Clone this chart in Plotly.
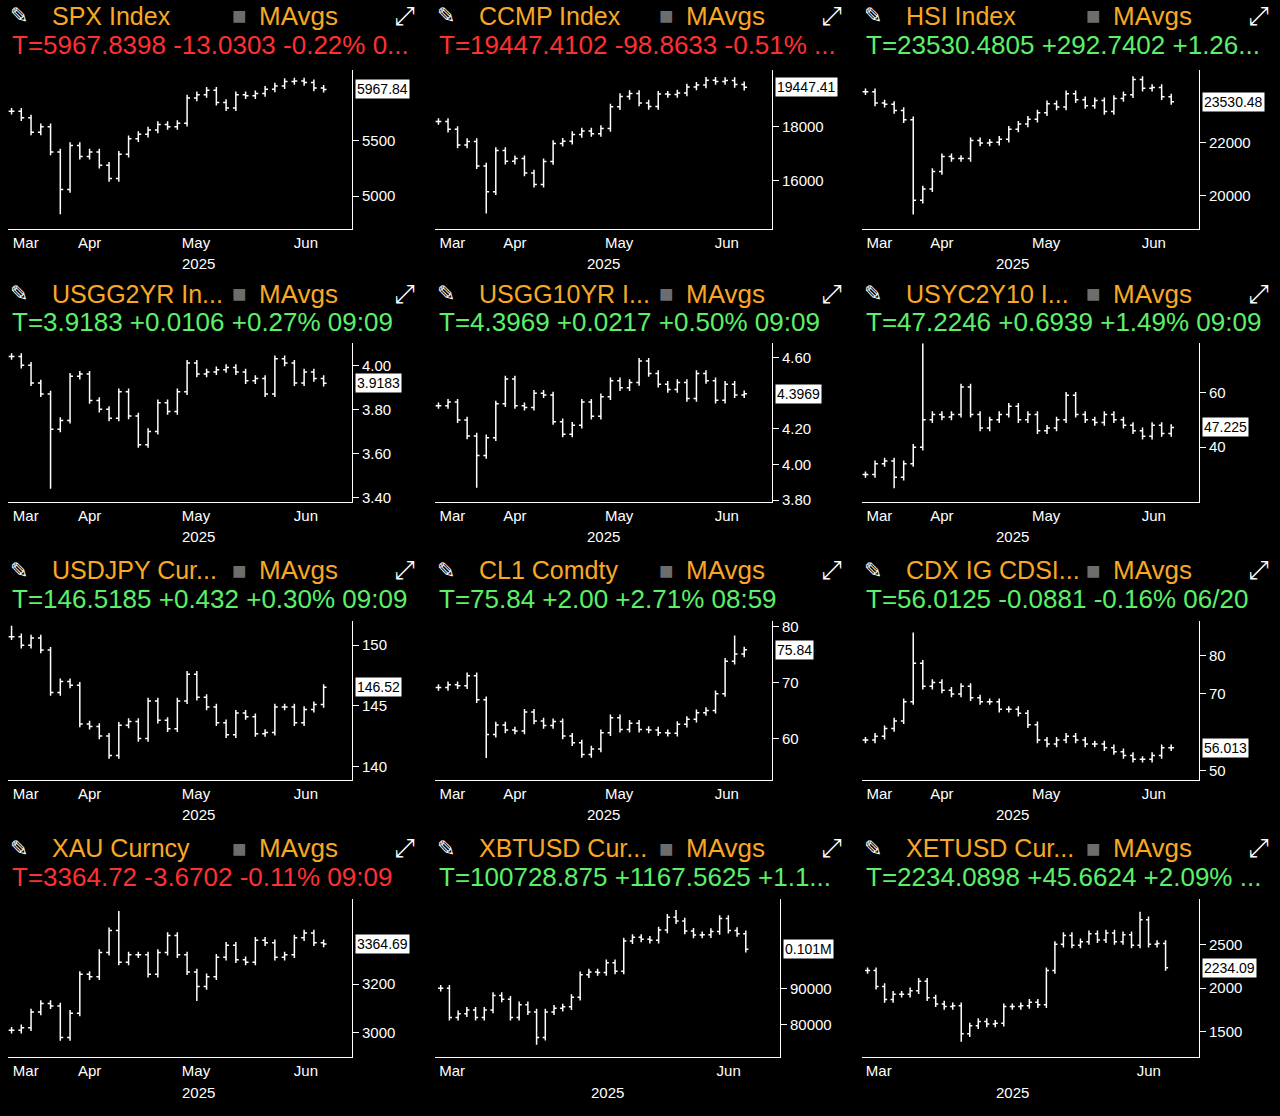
import pandas as pd
import plotly.graph_objects as go

# ---- data: closes (Mar 24 - Jun 20 for most panels) ----
spx = [5770, 5710, 5580, 5630, 5400, 5060, 5460, 5360, 5400, 5280, 5160, 5380, 5520, 5560, 5600, 5650, 5630,
       5660, 5890, 5920, 5960, 5850, 5800, 5920, 5910, 5930, 5970, 6000, 6040, 6045, 6030, 5980, 5967.84]
ccmp = [18190, 17900, 17320, 17450, 16550, 15600, 17120, 16720, 16820, 16290, 15870, 16710, 17380, 17460, 17710,
        17840, 17740, 17930, 18730, 19110, 19220, 18870, 18740, 19200, 19180, 19240, 19460, 19530, 19710, 19660,
        19700, 19550, 19447.41]
hsi = [23900, 23480, 23430, 23200, 22850, 19830, 20260, 20910, 21470, 21400, 21400, 22070, 21980, 22010, 22120,
       22500, 22690, 22870, 23110, 23450, 23330, 23830, 23600, 23380, 23570, 23160, 23650, 23790, 24360, 24030,
       24060, 23710, 23530.48]
usgg2 = [4.04, 4.00, 3.92, 3.87, 3.71, 3.75, 3.95, 3.96, 3.84, 3.80, 3.76, 3.88, 3.77, 3.64, 3.70, 3.83, 3.79,
         3.88, 4.01, 3.96, 3.97, 3.98, 3.99, 3.97, 3.93, 3.94, 3.87, 4.03, 4.01, 3.92, 3.97, 3.94, 3.9183]
usgg10 = [4.33, 4.35, 4.25, 4.16, 4.05, 4.15, 4.34, 4.48, 4.33, 4.32, 4.40, 4.39, 4.24, 4.17, 4.22, 4.35, 4.27,
          4.38, 4.47, 4.43, 4.46, 4.58, 4.51, 4.45, 4.42, 4.46, 4.37, 4.51, 4.47, 4.36, 4.45, 4.39, 4.3969]
usyc = [30, 34, 35, 29, 34, 40, 50, 52, 51, 52, 62, 52, 47, 50, 52, 55, 50, 52, 46, 47, 50, 59, 52, 50, 49, 52,
        50, 48, 46, 44, 48, 45, 47.225]
usdjpy = [150.7, 150.0, 150.6, 149.6, 146.1, 147.0, 146.7, 143.5, 143.3, 142.5, 140.9, 143.4, 143.7, 142.3, 145.4,
          143.8, 143.1, 145.4, 147.6, 145.7, 144.9, 143.6, 142.6, 144.4, 144.1, 142.7, 142.8, 144.9, 144.9, 143.6,
          144.7, 145.1, 146.52]
cl1 = [69.1, 69.6, 69.4, 71.2, 66.9, 60.7, 62.4, 61.5, 61.3, 64.7, 63.1, 62.3, 63.0, 60.4, 59.2, 57.1, 58.1, 61.0,
       63.7, 61.6, 62.7, 61.6, 61.5, 61.0, 60.9, 62.5, 63.4, 64.6, 65.0, 68.0, 73.8, 75.1, 75.84]
cdx = [58, 59, 61, 63, 68, 78, 72, 73, 71, 70, 72, 69, 68, 68, 66, 66, 65, 62, 58, 57, 58, 59, 58, 57, 57, 56, 55,
       54, 53, 53, 54, 56, 56.013]
xau = [3010, 3020, 3085, 3120, 3110, 2980, 3080, 3240, 3230, 3330, 3420, 3290, 3320, 3320, 3240, 3330, 3400, 3320,
       3250, 3190, 3230, 3310, 3360, 3300, 3290, 3380, 3370, 3310, 3320, 3390, 3410, 3370, 3364.69]
# crypto trades every day: Mar 6 - Jun 21
xbt = [90000, 82000, 83000, 84000, 82000, 84000, 88000, 87000, 82000, 85500, 83500, 76500, 83500, 84500, 84900,
       87500, 93700, 94500, 94300, 97000, 94700, 103000, 104000, 103500, 103200, 106000, 109500, 108500, 105700,
       104600, 104700, 105600, 109200, 105900, 105000, 100728]
xet = [2200, 2020, 1870, 1930, 1930, 1970, 2080, 1890, 1820, 1790, 1800, 1480, 1570, 1620, 1590, 1600, 1790, 1790,
       1800, 1840, 1810, 2200, 2500, 2600, 2490, 2530, 2620, 2550, 2630, 2530, 2610, 2490, 2780, 2500, 2510, 2234]

# intraday extremes that stick out of the bars (index -> value)
spx_ext = {5: 4835}
ccmp_ext = {5: 14800}
hsi_ext = {5: 19300}
usgg2_ext = {4: 3.44}
usgg10_ext = {4: 3.87}
usyc_ext = {6: 78, 3: 25}
usdjpy_ext = {0: 151.6}
cl1_ext = {5: 56.5, 31: 78.4}
cdx_ext = {5: 86}
xau_ext = {11: 3500, 19: 3130}
xbt_ext = {11: 74500, 27: 111500}
xet_ext = {11: 1390, 32: 2870}

titles = ["SPX Index", "CCMP Index", "HSI Index", "USGG2YR In...", "USGG10YR I...", "USYC2Y10 I...",
          "USDJPY Cur...", "CL1 Comdty", "CDX IG CDSI...", "XAU Curncy", "XBTUSD Cur...", "XETUSD Cur..."]
quotes = ["T=5967.8398 -13.0303 -0.22% 0...", "T=19447.4102 -98.8633 -0.51% ...",
          "T=23530.4805 +292.7402 +1.26...", "T=3.9183 +0.0106 +0.27% 09:09",
          "T=4.3969 +0.0217 +0.50% 09:09", "T=47.2246 +0.6939 +1.49% 09:09",
          "T=146.5185 +0.432 +0.30% 09:09", "T=75.84 +2.00 +2.71% 08:59",
          "T=56.0125 -0.0881 -0.16% 06/20", "T=3364.72 -3.6702 -0.11% 09:09",
          "T=100728.875 +1167.5625 +1.1...", "T=2234.0898 +45.6624 +2.09% ..."]
quote_up = [False, False, True, True, True, True, True, True, True, False, True, True]
last_labels = ["5967.84", "19447.41", "23530.48", "3.9183", "4.3969", "47.225", "146.52", "75.84", "56.013",
               "3364.69", "0.101M", "2234.09"]
yranges = [[4700, 6140], [14220, 20070], [18750, 24700], [3.38, 4.10], [3.79, 4.68], [20, 78],
           [138.9, 152], [52.6, 81], [47.7, 89], [2898, 3551], [71000, 114600], [1210, 3020]]
ytickvals = [[5000, 5500], [16000, 18000], [20000, 22000], [3.4, 3.6, 3.8, 4.0], [3.8, 4.0, 4.2, 4.6],
             [40, 60], [140, 145, 150], [60, 70, 80], [50, 70, 80], [3000, 3200], [80000, 90000], [1500, 2000, 2500]]
ytickfmt = ["d", "d", "d", ".2f", ".2f", "d", "d", "d", "d", "d", "d", "d"]

series = [spx, ccmp, hsi, usgg2, usgg10, usyc, usdjpy, cl1, cdx, xau, xbt, xet]
extremes = [spx_ext, ccmp_ext, hsi_ext, usgg2_ext, usgg10_ext, usyc_ext, usdjpy_ext, cl1_ext, cdx_ext,
            xau_ext, xbt_ext, xet_ext]

W, H = 1280, 1116
ORANGE = "#f9a825"
FONT = "Liberation Sans"

fig = go.Figure()
annotations = []

for i, closes in enumerate(series):
    row, col = divmod(i, 3)
    n = i + 1
    crypto = i >= 10
    if crypto:
        dates = pd.date_range("2025-03-06", "2025-06-21", periods=len(closes))
        xr = ["2025-03-04", "2025-07-03"]
        tv, tt = ["2025-03-10", "2025-06-15"], ["Mar", "Jun"]
    else:
        dates = pd.date_range("2025-03-24", "2025-06-20", periods=len(closes))
        xr = ["2025-03-23", "2025-06-28"]
        tv = ["2025-03-28", "2025-04-15", "2025-05-15", "2025-06-15"]
        tt = ["Mar", "Apr", "May", "Jun"]
    span = yranges[i][1] - yranges[i][0]
    wick = span * 0.02
    opens = [closes[0]] + closes[:-1]
    highs = [max(o, c) + wick for o, c in zip(opens, closes)]
    lows = [min(o, c) - wick for o, c in zip(opens, closes)]
    for k, v in extremes[i].items():
        if v > closes[k]:
            highs[k] = v
        else:
            lows[k] = v

    fig.add_trace(go.Ohlc(
        x=dates, open=opens, high=highs, low=lows, close=closes,
        increasing_line_color="white", decreasing_line_color="white",
        line_width=1.5, tickwidth=0.3, showlegend=False, hoverinfo="skip",
        xaxis=f"x{n}", yaxis=f"y{n}"))

    cx0 = col * 427
    px0, px1 = cx0 + 8, cx0 + (352 if col == 0 else 345)
    if crypto and col == 1:
        px1 = cx0 + 353
    top = [68, 343, 623, 903][row]
    bot = top + 160
    xdom = [px0 / W, px1 / W]
    ydom = [1 - bot / H, 1 - top / H]

    fig.layout[f"xaxis{n}"] = dict(
        domain=xdom, anchor=f"y{n}", range=xr, tickvals=tv, ticktext=tt, showgrid=False,
        showline=True, linecolor="white", linewidth=1, ticks="", zeroline=False,
        rangeslider=dict(visible=False), tickfont=dict(color="white", size=15, family=FONT))
    fig.layout[f"yaxis{n}"] = dict(
        domain=ydom, anchor=f"x{n}", range=yranges[i], side="right", tickvals=ytickvals[i],
        tickformat=ytickfmt[i], showgrid=False, showline=True, linecolor="white", linewidth=1,
        ticks="outside", ticklen=6, tickcolor="white", zeroline=False,
        tickfont=dict(color="white", size=15, family=FONT))

    # x axis year label
    annotations.append(dict(x=(xdom[0] + xdom[1]) / 2, y=1 - (bot + 35) / H, xref="paper", yref="paper",
                            yanchor="middle", text="2025", showarrow=False,
                            font=dict(color="white", size=15, family=FONT)))
    # last price tag
    annotations.append(dict(x=xdom[1] + 3 / W, y=closes[-1], xref="paper", yref=f"y{n}", xanchor="left",
                            yanchor="middle", text=last_labels[i], showarrow=False, bgcolor="white",
                            borderpad=1, font=dict(color="black", size=14, family=FONT)))

    # header
    rt = [0, 280, 559, 839][row]
    y1 = 1 - (rt + 13) / H
    y2 = 1 - (rt + 42) / H
    hdr = [(cx0 + 8, "✎", "white", 22), (cx0 + 50, titles[i], ORANGE, 25),
           (cx0 + 230, "■", "#6d6d6d", 24), (cx0 + 257, "MAvgs", ORANGE, 26), (cx0 + 392, "⤢", "white", 26)]
    for x, txt, colr, sz in hdr:
        annotations.append(dict(x=x / W, y=y1, xref="paper", yref="paper", xanchor="left", yanchor="middle",
                                text=txt, showarrow=False, font=dict(color=colr, size=sz, family=FONT)))
    annotations.append(dict(x=(cx0 + 10) / W, y=y2, xref="paper", yref="paper", xanchor="left",
                            yanchor="middle", text=quotes[i], showarrow=False,
                            font=dict(color="#5cf06a" if quote_up[i] else "#ff3030", size=26, family=FONT)))

fig.update_layout(
    width=W, height=H, margin=dict(l=0, r=0, t=0, b=0),
    paper_bgcolor="black", plot_bgcolor="black", annotations=annotations, showlegend=False)

# drop the browser's default body margin so the figure fills the window
fig.write_html("out.html", config={"displayModeBar": False},
               post_script="document.body.style.margin='0';")
